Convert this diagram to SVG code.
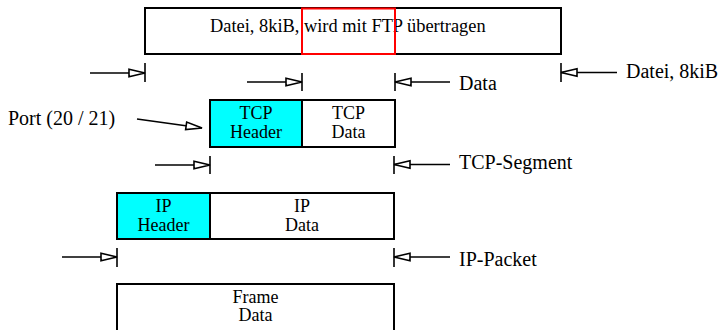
<svg xmlns="http://www.w3.org/2000/svg" width="721" height="330" viewBox="0 0 721 330">
<style>
  .box { fill: #fff; stroke: #000; stroke-width: 2; }
  .hdr { fill: #00ffff; stroke: #000; stroke-width: 2; }
  .t { font-family: "Liberation Serif", "Times New Roman", serif; font-size: 18px; fill: #000; }
  .c { text-anchor: middle; }
  .lbl { font-family: "Liberation Serif", "Times New Roman", serif; font-size: 20px; fill: #000; }
  .ln { stroke: #000; stroke-width: 1.6; fill: none; }
  .tick { stroke: #000; stroke-width: 1.6; }
</style>
<defs>
  <marker id="tri" markerUnits="userSpaceOnUse" markerWidth="20" markerHeight="12" viewBox="-18 -6 20 12" refX="0" refY="0" orient="auto">
    <path d="M0,0 L-16,-3.8 L-16,3.8 Z" fill="#fff" stroke="#000" stroke-width="1.6"/>
  </marker>
</defs>

<g id="file">
  <rect class="box" x="145" y="8" width="416" height="46"/>
  <text class="t" x="210" y="32" style="font-size:18.4px">Datei, 8kiB, wird mit FTP übertragen</text>
</g>
<g id="highlight">
  <rect x="302" y="8.5" width="93" height="45.5" fill="none" stroke="#ff0000" stroke-width="2"/>
</g>

<g id="tcp-header">
  <rect class="hdr" x="210" y="100" width="92" height="47"/>
  <text class="t c" x="256" y="119">TCP</text>
  <text class="t c" x="256" y="137.5">Header</text>
</g>
<g id="tcp-data">
  <rect class="box" x="302" y="100" width="93" height="47"/>
  <text class="t c" x="348.5" y="119">TCP</text>
  <text class="t c" x="348.5" y="137.5">Data</text>
</g>

<g id="ip-header">
  <rect class="hdr" x="117" y="193" width="93" height="46"/>
  <text class="t c" x="163.5" y="212.2">IP</text>
  <text class="t c" x="163.5" y="230.8">Header</text>
</g>
<g id="ip-data">
  <rect class="box" x="210" y="193" width="184" height="46"/>
  <text class="t c" x="302" y="212.2">IP</text>
  <text class="t c" x="302" y="230.8">Data</text>
</g>

<g id="frame">
  <rect class="box" x="117" y="284" width="277" height="60"/>
  <text class="t c" x="255.5" y="302.7">Frame</text>
  <text class="t c" x="255.5" y="321.3">Data</text>
</g>

<g id="labels">
  <text class="lbl" x="626" y="78">Datei, 8kiB</text>
  <text class="lbl" x="459" y="90">Data</text>
  <text class="lbl" x="8" y="125">Port (20 / 21)</text>
  <text class="lbl" x="459" y="169">TCP-Segment</text>
  <text class="lbl" x="459" y="266">IP-Packet</text>
</g>

<g id="connectors">
  <line class="tick" x1="145" y1="63" x2="145" y2="82"/>
  <line class="ln" x1="90" y1="73" x2="145" y2="73" marker-end="url(#tri)"/>
  <line class="tick" x1="561" y1="63" x2="561" y2="82"/>
  <line class="ln" x1="617" y1="72.5" x2="561" y2="72.5" marker-end="url(#tri)"/>
  <line class="tick" x1="302" y1="73" x2="302" y2="91"/>
  <line class="ln" x1="247" y1="82" x2="302" y2="82" marker-end="url(#tri)"/>
  <line class="tick" x1="395" y1="73" x2="395" y2="91"/>
  <line class="ln" x1="450" y1="82" x2="395" y2="82" marker-end="url(#tri)"/>
  <line class="ln" x1="137" y1="119" x2="202" y2="128" marker-end="url(#tri)"/>
  <line class="tick" x1="210" y1="156" x2="210" y2="174"/>
  <line class="ln" x1="155" y1="165" x2="210" y2="165" marker-end="url(#tri)"/>
  <line class="tick" x1="394" y1="156" x2="394" y2="174"/>
  <line class="ln" x1="450" y1="164.5" x2="394" y2="164.5" marker-end="url(#tri)"/>
  <line class="tick" x1="117" y1="248" x2="117" y2="267"/>
  <line class="ln" x1="62" y1="257" x2="117" y2="257" marker-end="url(#tri)"/>
  <line class="tick" x1="394" y1="248" x2="394" y2="267"/>
  <line class="ln" x1="450" y1="257" x2="394" y2="257" marker-end="url(#tri)"/>
</g>
</svg>
